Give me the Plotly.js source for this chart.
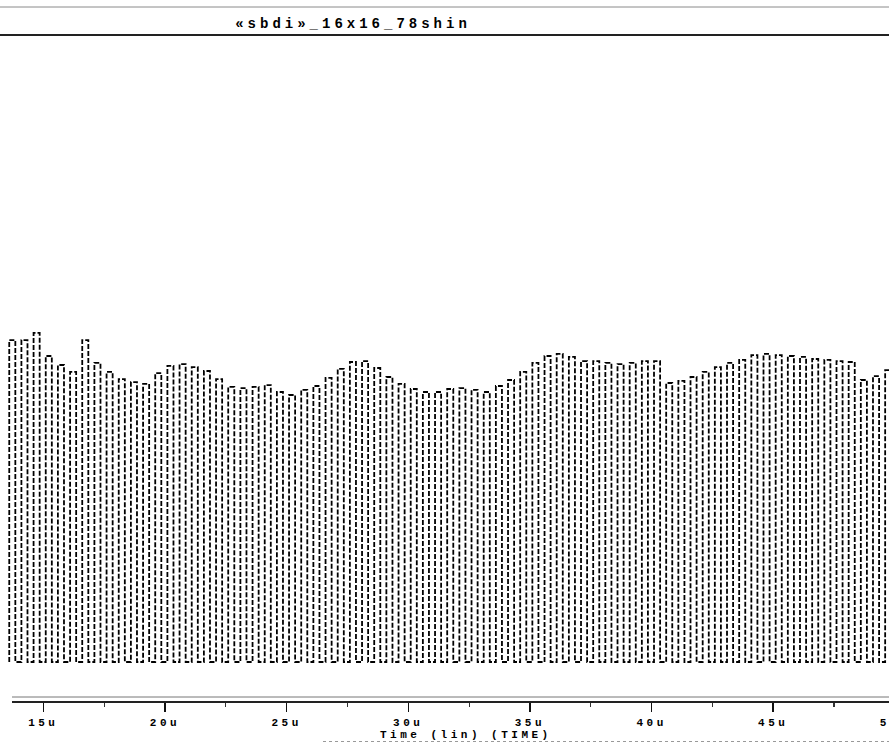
<!DOCTYPE html>
<html>
<head>
<meta charset="utf-8">
<script src="https://cdn.plot.ly/plotly-3.0.1.min.js"></script>
<style>
  html, body { margin: 0; padding: 0; overflow: hidden; background: #fff; }
  #chart { width: 900px; height: 743px; }
  .xtick text { letter-spacing: 3.5px; }
  .gtitle { letter-spacing: 4px; }
  .annotation-text { letter-spacing: 3.5px; }
</style>
</head>
<body>
<div id="chart"></div>
<script>
// Rising-edge times of each pulse (microseconds)
const riseTimes = [
  13.6, 14.1, 14.6, 15.1, 15.6, 16.1, 16.6, 17.1, 17.6, 18.1,
  18.6, 19.1, 19.6, 20.1, 20.6, 21.1, 21.6, 22.1, 22.6, 23.1,
  23.6, 24.1, 24.6, 25.1, 25.6, 26.1, 26.6, 27.1, 27.6, 28.1,
  28.6, 29.1, 29.6, 30.1, 30.6, 31.1, 31.6, 32.1, 32.6, 33.1,
  33.6, 34.1, 34.6, 35.1, 35.6, 36.1, 36.6, 37.1, 37.6, 38.1,
  38.6, 39.1, 39.6, 40.1, 40.6, 41.1, 41.6, 42.1, 42.6, 43.1,
  43.6, 44.1, 44.6, 45.1, 45.6, 46.1, 46.6, 47.1, 47.6, 48.1,
  48.6, 49.1, 49.6
];

// High level reached by each pulse (V)
const highLevels = [
  1.073, 1.073, 1.097, 1.020, 0.990, 0.967, 1.073, 0.997, 0.967, 0.943,
  0.933, 0.927, 0.963, 0.987, 0.993, 0.983, 0.970, 0.943, 0.917, 0.913,
  0.917, 0.923, 0.900, 0.890, 0.907, 0.920, 0.947, 0.977, 1.000, 1.003,
  0.980, 0.950, 0.927, 0.910, 0.900, 0.900, 0.910, 0.913, 0.907, 0.900,
  0.920, 0.940, 0.967, 0.997, 1.020, 1.027, 1.017, 1.003, 1.003, 0.997,
  0.993, 0.997, 1.003, 1.003, 0.930, 0.937, 0.950, 0.967, 0.983, 0.997,
  1.007, 1.023, 1.027, 1.023, 1.020, 1.017, 1.010, 1.007, 1.003, 1.000,
  0.940, 0.953, 0.973
];

const lowLevel = 0.0;      // V between pulses
const pulseWidth = 0.25;   // us spent at the high level

const chartTitle = '«sbdi»_16x16_78shin';
const axisLabel = 'Time (lin) (TIME)';
const timeUnit = 'u';

// Build the square-wave trace: rise, hold, fall, hold low
const xs = [], ys = [];
riseTimes.forEach((t, i) => {
  const tf = t + pulseWidth;
  xs.push(t, t, tf, tf);
  ys.push(lowLevel, highLevels[i], highLevels[i], lowLevel);
});

const W = 900, H = 743;
const M = { l: 0, r: 0, t: 38, b: 41 };
const plotH = H - M.t - M.b;
// pixel row -> paper y
const py = (row) => (H - M.b - row) / plotH;

const mono = 'Liberation Mono, Courier New, monospace';

const trace = {
  x: xs, y: ys,
  type: 'scatter', mode: 'lines',
  line: { color: '#000', width: 1.8, dash: '5px,2px' },
  hoverinfo: 'skip'
};

const layout = {
  width: W, height: H,
  margin: M,
  paper_bgcolor: '#fff', plot_bgcolor: '#fff',
  showlegend: false,
  title: {
    text: chartTitle,
    x: 353 / W, xanchor: 'center',
    y: 1 - 23 / H, yanchor: 'middle', yref: 'container',
    font: { family: mono, size: 14, weight: 'bold', color: '#000' }
  },
  xaxis: {
    range: [13.22, 50.21],
    tickmode: 'linear', tick0: 0, dtick: 5, ticksuffix: timeUnit,
    ticks: 'outside', ticklen: 9, tickwidth: 1.5, tickcolor: '#111',
    minor: { dtick: 2.5, ticks: 'outside', ticklen: 4, tickwidth: 1.2, tickcolor: '#333', showgrid: false },
    showline: false, showgrid: false, zeroline: false,
    ticklabeloverflow: 'allow',
    ticklabelstandoff: 1,
    tickfont: { family: mono, size: 11, weight: 'bold', color: '#000' },
    fixedrange: true
  },
  yaxis: {
    range: [-0.1333, 2.08],
    visible: false, showgrid: false, zeroline: false, fixedrange: true
  },
  annotations: [{
    text: axisLabel,
    xref: 'paper', yref: 'paper',
    x: 466 / W, y: py(735), xanchor: 'center', yanchor: 'middle',
    showarrow: false,
    font: { family: mono, size: 11, weight: 'bold', color: '#000' }
  }],
  shapes: [
    // header band rules
    { type: 'line', xref: 'paper', yref: 'paper', x0: 0, x1: 1, y0: py(7), y1: py(7),
      line: { color: '#8a8a8a', width: 1 } },
    { type: 'line', xref: 'paper', yref: 'paper', x0: 0, x1: 1, y0: py(35), y1: py(35),
      line: { color: '#222', width: 2 } },
    // double time-axis rule
    { type: 'line', xref: 'paper', yref: 'paper', x0: 12 / W, x1: 1, y0: py(697), y1: py(697),
      line: { color: '#777', width: 1 } },
    { type: 'line', xref: 'paper', yref: 'paper', x0: 12 / W, x1: 1, y0: 0, y1: 0,
      line: { color: '#222', width: 2 } },
    // footer rule
    { type: 'line', xref: 'paper', yref: 'paper', x0: 323 / W, x1: 1, y0: py(741.5), y1: py(741.5),
      line: { color: '#999', width: 1, dash: 'dot' } }
  ]
};

Plotly.newPlot('chart', [trace], layout, { staticPlot: true, displayModeBar: false });
</script>
</body>
</html>
